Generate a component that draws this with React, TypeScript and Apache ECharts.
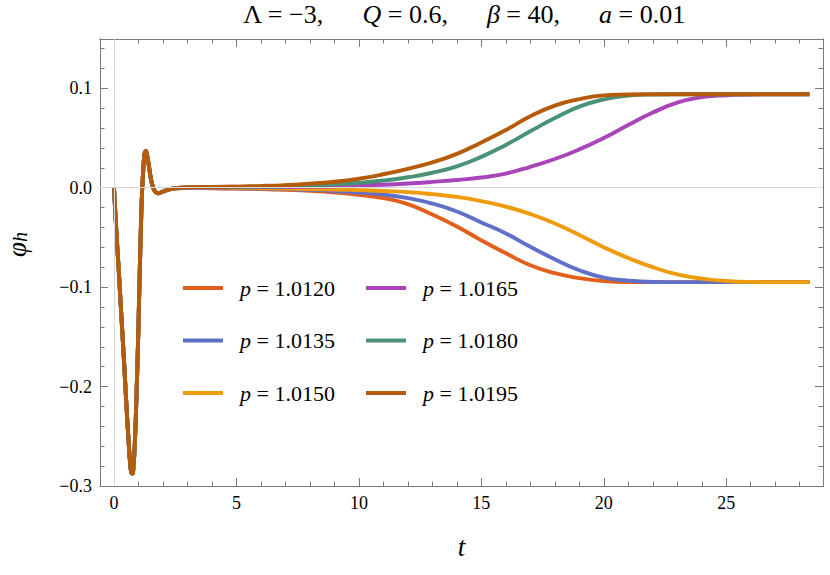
import React, { useEffect, useRef } from "react";
import * as echarts from "echarts";

// shared early transient (same for every p)
const tEarly = [0, 0.1, 0.2, 0.3, 0.4, 0.5, 0.6, 0.65, 0.7, 0.75, 0.8, 0.85, 0.9, 1.0, 1.1, 1.2, 1.3, 1.4, 1.5, 1.6, 1.7, 1.8, 2.0, 2.25, 2.5];
const phiEarly = [0, -0.045, -0.085, -0.128, -0.17, -0.215, -0.256, -0.274, -0.2855, -0.2875, -0.279, -0.258, -0.225, -0.14, -0.04, 0.02, 0.0368, 0.026, 0.01, 0.0, -0.0045, -0.0056, -0.004, -0.0018, -0.0006];

// later evolution
const tLate = [3, 4, 5, 6, 7, 8, 9, 10, 11, 12, 13, 14, 15, 16, 17, 18, 19, 20, 21, 22, 23, 24, 25, 26, 27, 28, 28.4];
const p10120 = [-0.0003, -0.0006, -0.001, -0.0015, -0.0022, -0.0032, -0.0048, -0.0072, -0.0105, -0.0165, -0.027, -0.039, -0.053, -0.066, -0.078, -0.086, -0.091, -0.094, -0.095, -0.095, -0.095, -0.095, -0.095, -0.095, -0.095, -0.095, -0.095];
const p10135 = [-0.0002, -0.0004, -0.0007, -0.001, -0.0015, -0.0022, -0.0033, -0.0048, -0.007, -0.0105, -0.016, -0.024, -0.035, -0.046, -0.0595, -0.072, -0.083, -0.0905, -0.0935, -0.0948, -0.095, -0.095, -0.095, -0.095, -0.095, -0.095, -0.095];
const p10150 = [-0.0001, -0.0002, -0.0004, -0.0006, -0.0009, -0.0013, -0.0018, -0.0025, -0.0034, -0.0045, -0.0065, -0.0093, -0.0135, -0.019, -0.0265, -0.036, -0.0475, -0.06, -0.0707, -0.08, -0.0872, -0.0915, -0.0938, -0.0948, -0.095, -0.095, -0.095];
const p10165 = [0.0001, 0.0002, 0.0003, 0.0005, 0.0007, 0.001, 0.0015, 0.0022, 0.003, 0.0042, 0.0058, 0.0077, 0.0102, 0.0142, 0.021, 0.0288, 0.0385, 0.05, 0.063, 0.0755, 0.0855, 0.091, 0.093, 0.0937, 0.094, 0.094, 0.094];
const p10180 = [0.0002, 0.0004, 0.0007, 0.001, 0.0015, 0.0022, 0.0033, 0.0049, 0.0072, 0.0105, 0.015, 0.0215, 0.031, 0.043, 0.0567, 0.07, 0.0815, 0.0888, 0.0925, 0.0937, 0.094, 0.094, 0.094, 0.094, 0.094, 0.094, 0.094];
const p10195 = [0.0004, 0.0007, 0.0011, 0.0017, 0.0026, 0.004, 0.006, 0.009, 0.0135, 0.019, 0.0255, 0.034, 0.0455, 0.058, 0.0718, 0.0825, 0.089, 0.0928, 0.0937, 0.094, 0.094, 0.094, 0.094, 0.094, 0.094, 0.094, 0.094];

const seriesNames = ["1.0120", "1.0135", "1.0150", "1.0165", "1.0180", "1.0195"];
const seriesValues = [p10120, p10135, p10150, p10165, p10180, p10195];
const colors = ["#E2601A", "#6070C8", "#EF9B0C", "#A845B8", "#4A9277", "#B55B0A"];

const xMajorTicks = [0, 5, 10, 15, 20, 25];
const xMinorTicks = [0, 1, 2, 3, 4, 5, 6, 7, 8, 9, 10, 11, 12, 13, 14, 15, 16, 17, 18, 19, 20, 21, 22, 23, 24, 25, 26, 27, 28];
const yMajorTicks = [-0.3, -0.2, -0.1, 0, 0.1];
const yMinorTicks = [-0.3, -0.28, -0.26, -0.24, -0.22, -0.2, -0.18, -0.16, -0.14, -0.12, -0.1, -0.08, -0.06, -0.04, -0.02, 0, 0.02, 0.04, 0.06, 0.08, 0.1, 0.12, 0.14];

const FONT = "Liberation Serif";
const FRAME = "#7a7a7a";
const X_MIN = -0.57;
const X_MAX = 28.95;
const Y_MIN = -0.3;
const Y_MAX = 0.1495;

export default function App() {
  const ref = useRef<HTMLDivElement>(null);
  useEffect(() => {
    if (!ref.current) return;
    const chart = echarts.init(ref.current, null, { renderer: "svg" });

    const fmtY = (v: number) => (v < 0 ? "\u2212" : "") + Math.abs(v).toFixed(1);

    const xAxisBase = (major: boolean, pos: string, labels: boolean, name?: boolean) => ({
      type: "value",
      min: X_MIN,
      max: X_MAX,
      position: pos,
      splitLine: { show: false },
      axisLine: { show: true, onZero: false, lineStyle: { color: FRAME, width: 1 } },
      axisTick: {
        show: true,
        inside: true,
        length: major ? 8 : 4.5,
        customValues: major ? xMajorTicks : xMinorTicks,
        lineStyle: { color: FRAME, width: 1 },
      },
      axisLabel: {
        show: labels,
        customValues: xMajorTicks,
        margin: 8,
        color: "#000",
        fontSize: 18,
        fontFamily: FONT,
      },
      name: name ? "t" : "",
      nameLocation: "middle",
      nameGap: 47,
      nameTextStyle: { fontSize: 27, fontStyle: "italic", fontFamily: FONT, color: "#000" },
    });

    const yAxisBase = (major: boolean, pos: string, labels: boolean, name?: boolean) => ({
      type: "value",
      min: Y_MIN,
      max: Y_MAX,
      position: pos,
      splitLine: { show: false },
      axisLine: { show: true, onZero: false, lineStyle: { color: FRAME, width: 1 } },
      axisTick: {
        show: true,
        inside: true,
        length: major ? 8 : 4.5,
        customValues: major ? yMajorTicks : yMinorTicks,
        lineStyle: { color: FRAME, width: 1 },
      },
      axisLabel: {
        show: labels,
        customValues: yMajorTicks,
        formatter: fmtY,
        margin: 8,
        color: "#000",
        fontSize: 18,
        fontFamily: FONT,
      },
      name: name ? "{a|\u03C6}{b|h}" : "",
      nameLocation: "middle",
      nameGap: 70,
      nameTextStyle: {
        fontFamily: FONT,
        color: "#000",
        padding: [0, 0, 0, 36],
        rich: {
          a: { fontSize: 27, fontStyle: "italic", fontFamily: FONT, color: "#000" },
          b: { fontSize: 20, fontStyle: "italic", fontFamily: FONT, color: "#000", padding: [7, 0, 0, 0] },
        },
      },
    });

    const lines = seriesNames.map((n, i) => ({
      name: n,
      type: "line",
      xAxisIndex: 0,
      yAxisIndex: 0,
      showSymbol: false,
      smooth: 0.5,
      z: 3,
      lineStyle: { color: colors[i], width: 3.9 },
      itemStyle: { color: colors[i] },
      data: [
        ...tEarly.map((t, k) => [t, phiEarly[k]]),
        ...tLate.map((t, k) => [t, seriesValues[i][k]]),
      ],
    }));

    const legendCommon = {
      orient: "vertical",
      icon: "rect",
      padding: 0,
      itemWidth: 40,
      itemHeight: 4,
      itemGap: 30.5,
      formatter: (name: string) => `{i|p}{r| = ${name}}`,
      textStyle: {
        fontFamily: FONT,
        padding: [0, 0, 0, 12],
        lineHeight: 20,
        rich: {
          i: { fontSize: 22, fontStyle: "italic", fontFamily: FONT, color: "#000" },
          r: { fontSize: 22, fontFamily: FONT, color: "#000" },
        },
      },
    };

    chart.setOption({
      animation: false,
      backgroundColor: "#fff",
      textStyle: { fontFamily: FONT },
      grid: { left: 100, right: 7, top: 39, bottom: 89, containLabel: false, outerBoundsMode: "none" },
      xAxis: [
        xAxisBase(true, "bottom", true, true),
        xAxisBase(true, "top", false),
        xAxisBase(false, "bottom", false),
        xAxisBase(false, "top", false),
      ],
      yAxis: [
        yAxisBase(true, "left", true, true),
        yAxisBase(true, "right", false),
        yAxisBase(false, "left", false),
        yAxisBase(false, "right", false),
      ],
      legend: [
        { ...legendCommon, left: 183, top: 277, data: seriesNames.slice(0, 3) },
        { ...legendCommon, left: 366, top: 277, data: seriesNames.slice(3, 6) },
      ],
      graphic: [
        {
          type: "text",
          x: 464,
          y: 14,
          style: {
            text: "{r|\u039B = \u22123,      }{i|Q}{r| = 0.6,      }{i|\u03B2}{r| = 40,      }{i|a}{r| = 0.01}",
            fontFamily: FONT,
            align: "center",
            verticalAlign: "middle",
            rich: {
              r: { fontSize: 26, fontFamily: FONT, fill: "#000" },
              i: { fontSize: 26, fontFamily: FONT, fontStyle: "italic", fill: "#000" },
            },
          },
        },
      ],
      series: [
        {
          name: "zero",
          type: "line",
          data: [],
          z: 1,
          silent: true,
          markLine: {
            silent: true,
            symbol: ["none", "none"],
            label: { show: false },
            lineStyle: { color: "#d8d8d8", width: 1, type: "solid" },
            data: [{ xAxis: 0 }, { yAxis: 0 }],
          },
        },
        ...lines,
      ],
    });
    return () => chart.dispose();
  }, []);
  return (
    <div
      ref={ref}
      style={{ position: "absolute", left: 0, top: 0, width: 830, height: 575, background: "#fff" }}
    />
  );
}
